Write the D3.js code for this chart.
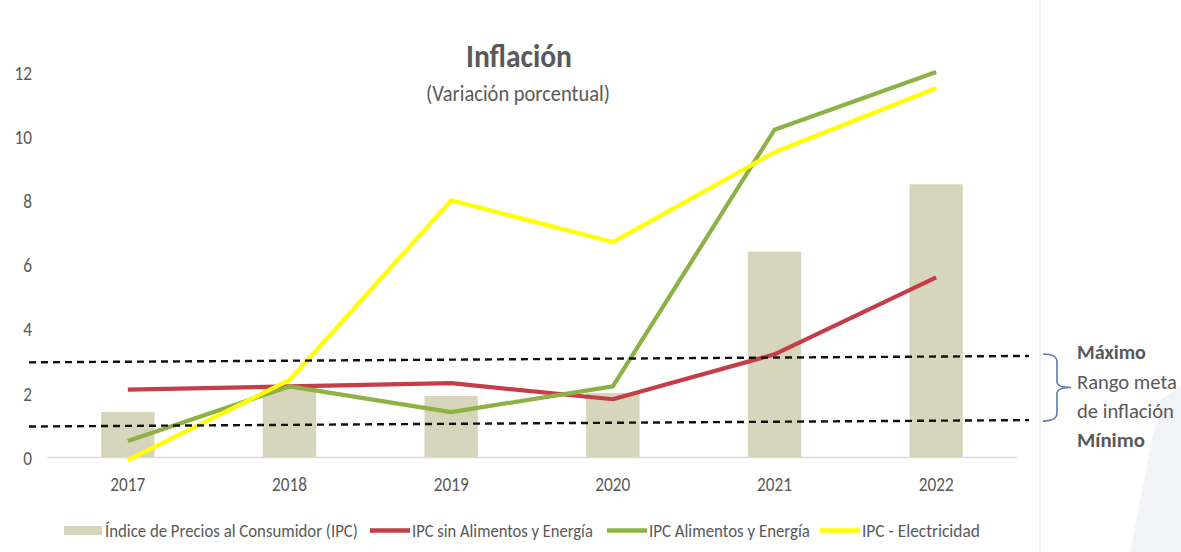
<!DOCTYPE html>
<html>
<head>
<meta charset="utf-8">
<script src="https://cdn.jsdelivr.net/npm/d3@7/dist/d3.min.js"></script>
<style>
  html, body { margin: 0; padding: 0; background: #ffffff; }
  svg { display: block; }
  text { font-family: Carlito, Lato, "Open Sans", sans-serif; fill: #595959; }
</style>
</head>
<body>
<svg id="chart" width="1181" height="552"></svg>
<script>
// ---------------- DATA ----------------
const years = ["2017", "2018", "2019", "2020", "2021", "2022"];
const ipcTotal = [1.4, 2.2, 1.9, 2.0, 6.4, 8.5];           // bars
const ipcSinAlimEnergia = [2.1, 2.2, 2.3, 1.8, 3.2, 5.6];  // red
const ipcAlimEnergia = [0.5, 2.2, 1.4, 2.2, 10.2, 12.0];   // green
const ipcElectricidad = [-0.1, 2.4, 8.0, 6.7, 9.5, 11.5];  // yellow
const yTicks = [0, 2, 4, 6, 8, 10, 12];
const targetMax = [2.95, 3.15];   // dashed line value at left / right end
const targetMin = [0.95, 1.15];
const legendLabels = [
  "Índice de Precios al Consumidor (IPC)",
  "IPC sin Alimentos y Energía",
  "IPC Alimentos y Energía",
  "IPC  - Electricidad"
];
const titleText = "Inflación";
const subtitleText = "(Variación porcentual)";
const noteLines = ["Máximo", "Rango meta", "de inflación", "Mínimo"];

// ---------------- STYLE ----------------
const C_BAR = "#d8d5bd", C_RED = "#c43e48", C_GREEN = "#8db145", C_YEL = "#ffff00";
const C_TEXT = "#595959", C_AXIS = "#d9d9d9", C_BRACE = "#5b7cad";

const svg = d3.select("#chart");

// background decorations
svg.append("rect").attr("x", 0).attr("y", 0).attr("width", 1181).attr("height", 552).attr("fill", "#ffffff");
svg.append("polygon").attr("points", "1160,400 1181,385 1181,552 1130,552").attr("fill", "#f1f3f6");
svg.append("line").attr("x1", 1040).attr("x2", 1040).attr("y1", 0).attr("y2", 552)
  .attr("stroke", "#e6e6e6").attr("stroke-width", 1.2);

// helper: text compressed horizontally to a target width
function fitText(parent, x, y, str, size, weight, anchor, targetW) {
  const t = parent.append("text").attr("x", 0).attr("y", 0)
    .attr("font-size", size).attr("font-weight", weight).attr("text-anchor", anchor)
    .attr("fill", C_TEXT).text(str);
  const w = t.node().getComputedTextLength();
  const sx = targetW ? targetW / w : 1;
  t.attr("transform", `translate(${x},${y}) scale(${sx},1)`);
  return t;
}

// ---------------- SCALES ----------------
const x = d3.scaleBand().domain(years).range([47, 1017]).paddingInner(0.67).paddingOuter(0.335);
const y = d3.scaleLinear().domain([0, 12]).range([457, 72]);
const cx = d => x(d) + x.bandwidth() / 2;

// measure digit compression
const TICK_SIZE = 20;
const probe = svg.append("text").attr("font-size", TICK_SIZE).text("2017");
const sxDigits = 35 / probe.node().getComputedTextLength();
probe.remove();

// ---------------- AXES ----------------
const yAxis = svg.append("g").attr("transform", "translate(32,0)")
  .call(d3.axisLeft(y).tickValues(yTicks).tickSize(0).tickPadding(0));
yAxis.select(".domain").remove();
yAxis.selectAll("text")
  .attr("font-size", TICK_SIZE).attr("font-family", "Carlito, Lato, sans-serif")
  .attr("fill", C_TEXT).attr("x", 0).attr("dy", "0.36em")
  .attr("transform", `scale(${sxDigits},1)`);

const xAxis = svg.append("g").attr("transform", `translate(0,${y(0)})`)
  .call(d3.axisBottom(x).tickSize(0).tickSizeOuter(0).tickPadding(0));
xAxis.select(".domain").attr("stroke", C_AXIS).attr("stroke-width", 1.5);
xAxis.selectAll("text")
  .attr("font-size", TICK_SIZE).attr("font-family", "Carlito, Lato, sans-serif")
  .attr("fill", C_TEXT).attr("x", 0).attr("y", 34).attr("dy", 0)
  .attr("transform", `scale(${sxDigits},1)`);

// ---------------- BARS ----------------
svg.append("g").selectAll("rect").data(ipcTotal).join("rect")
  .attr("x", (d, i) => x(years[i]))
  .attr("width", x.bandwidth())
  .attr("y", d => y(d))
  .attr("height", d => y(0) - y(d))
  .attr("fill", C_BAR);

// ---------------- LINES ----------------
const line = d3.line().x((d, i) => cx(years[i])).y(d => y(d));
[[ipcSinAlimEnergia, C_RED], [ipcAlimEnergia, C_GREEN], [ipcElectricidad, C_YEL]].forEach(([s, c]) => {
  svg.append("path").datum(s).attr("d", line).attr("fill", "none")
    .attr("stroke", c).attr("stroke-width", 4.2)
    .attr("stroke-linejoin", "round").attr("stroke-linecap", "butt");
});

// ---------------- TARGET RANGE (dashed) ----------------
const dashX = [29, 1029];
[targetMax, targetMin].forEach(v => {
  svg.append("line").attr("x1", dashX[0]).attr("x2", dashX[1])
    .attr("y1", y(v[0])).attr("y2", y(v[1]))
    .attr("stroke", "#111").attr("stroke-width", 2.4).attr("stroke-dasharray", "7,5");
});

// brace
const yTop = y(targetMax[1]) - 2, yBot = y(targetMin[1]) + 1, yMid = (yTop + yBot) / 2;
svg.append("path")
  .attr("d", `M1043,${yTop} Q1057,${yTop} 1057,${yTop + 8} L1057,${yMid - 6} Q1057,${yMid} 1071,${yMid}
              Q1057,${yMid} 1057,${yMid + 6} L1057,${yBot - 8} Q1057,${yBot} 1043,${yBot}`)
  .attr("fill", "none").attr("stroke", C_BRACE).attr("stroke-width", 1.6);

// note text
const noteY = [359, 389, 418, 447];
const noteW = [69, 100, 97, 68];
noteLines.forEach((s, i) => {
  const bold = (i === 0 || i === 3);
  const t = fitText(svg, 1077, noteY[i], s, 20, bold ? 700 : 400, "start", noteW[i]);
  t.attr("fill", bold ? "#000" : "#262626");
});

// ---------------- TITLE ----------------
fitText(svg, 519, 67, titleText, 32, 700, "middle", 106);
fitText(svg, 518, 101, subtitleText, 23, 400, "middle", 184);

// ---------------- LEGEND ----------------
const legX = [64, 370, 607, 820];
const legW = [253, 181, 161, 118];
const legColors = [C_BAR, C_RED, C_GREEN, C_YEL];
const lg = svg.append("g");
legendLabels.forEach((lab, i) => {
  if (i === 0) {
    lg.append("rect").attr("x", legX[i]).attr("y", 526).attr("width", 38).attr("height", 9).attr("fill", legColors[i]);
  } else {
    lg.append("line").attr("x1", legX[i]).attr("x2", legX[i] + 40).attr("y1", 530.5).attr("y2", 530.5)
      .attr("stroke", legColors[i]).attr("stroke-width", 4.5);
  }
  const tx = legX[i] + (i === 0 ? 41 : 42);
  fitText(lg, tx, 536.5, lab, 18, 400, "start", legW[i]);
});
</script>
</body>
</html>
